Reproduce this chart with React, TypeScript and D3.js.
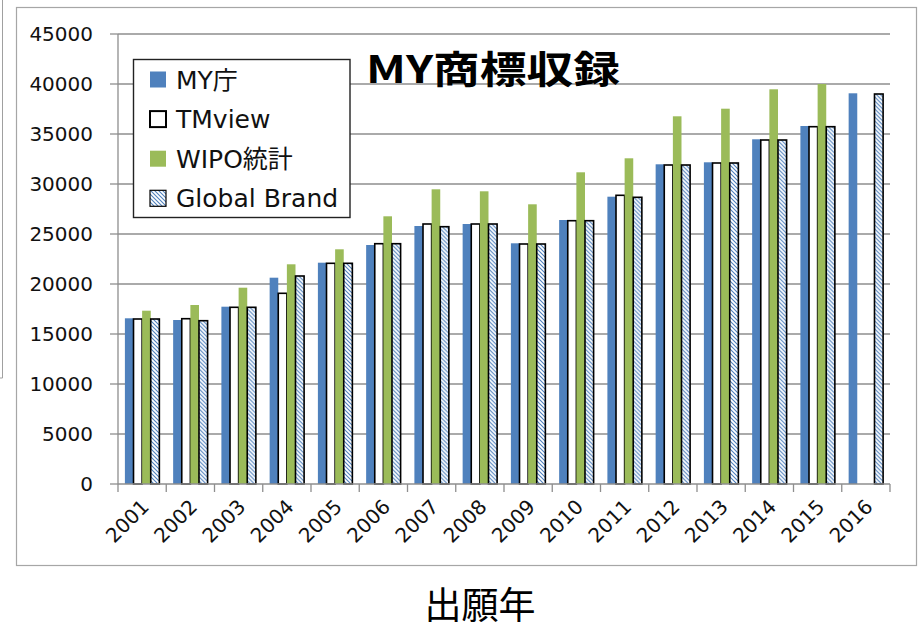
import React from "react";
import * as d3 from "d3";

const years = ["2001","2002","2003","2004","2005","2006","2007","2008","2009","2010","2011","2012","2013","2014","2015","2016"];
const myAgency = [16570,16400,17730,20630,22130,23900,25800,26000,24070,26400,28730,31970,32170,34470,35800,39070];
const tmview = [16500,16530,17670,19070,22070,24030,26000,26000,24000,26330,28870,31900,32100,34400,35730,null];
const wipo = [17330,17900,19630,21970,23470,26770,29470,29270,27970,31170,32570,36770,37530,39470,40000,null];
const globalBrand = [16500,16330,17670,20800,22070,24030,25730,26000,24000,26330,28670,31900,32100,34400,35730,39000];
const seriesNames = ["MY庁", "TMview", "WIPO統計", "Global Brand"];
const yTicks = [0,5000,10000,15000,20000,25000,30000,35000,40000,45000];
const chartTitle = "MY商標収録";
const xTitle = "出願年";

const BLUE = "#4F81BD";
const GREEN = "#9BBB59";
const GRID = "#8E8E8E";

type Style = { fill: string; stroke: string; sw: number };
const styles: Style[] = [
  { fill: BLUE, stroke: "none", sw: 0 },
  { fill: "#FFFFFF", stroke: "#000000", sw: 1.6 },
  { fill: GREEN, stroke: "none", sw: 0 },
  { fill: "url(#hatch)", stroke: "#000000", sw: 1.6 },
];

export default function App() {
  const W = 918, H = 630;
  const left = 118, right = 890, top = 34, bottom = 484;
  const x = d3.scaleBand<string>().domain(years).range([left, right]).padding(0);
  const step = x.step();
  const gapRatio = 1.6;
  const barW = step / (4 + gapRatio);
  const inner = d3.scaleBand<string>().domain(seriesNames)
    .range([(gapRatio * barW) / 2, step - (gapRatio * barW) / 2]).padding(0);
  const y = d3.scaleLinear().domain([0, 45000]).range([bottom, top]);
  const data = [myAgency, tmview, wipo, globalBrand];
  const font = "'DejaVu Sans', 'Noto Sans CJK JP', sans-serif";
  const cjk = "'Noto Sans CJK JP', sans-serif";

  const boundaries = years.map((_, i) => left + i * step).concat([right]);

  return (
    <svg width={W} height={H} style={{ position: "absolute", left: 0, top: 0, display: "block", background: "#fff" }} fontFamily={font}>
      <defs>
        <pattern id="hatch" patternUnits="userSpaceOnUse" width={4} height={4}>
          <rect width={4} height={4} fill="#fff" />
          <path d="M-1,-1 L5,5 M-1,3 L1,5 M3,-1 L5,1" stroke={BLUE} strokeWidth={1.1} />
        </pattern>
      </defs>
      {/* background artifact frame */}
      <path d="M2.5,0 V378 H0" fill="none" stroke="#A0A0A0" strokeWidth={1} />
      {/* outer chart border */}
      <rect x={16.5} y={7.5} width={900} height={558} fill="#fff" stroke="#A6A6A6" strokeWidth={1.2} />

      {/* gridlines and y ticks */}
      {yTicks.map((t) => (
        <g key={t}>
          {t > 0 && <line x1={left} x2={right} y1={y(t)} y2={y(t)} stroke={GRID} strokeWidth={1.3} />}
          <line x1={left - 8} x2={left} y1={y(t)} y2={y(t)} stroke={GRID} strokeWidth={1.3} />
          <text x={93} y={y(t)} dy="0.36em" textAnchor="end" fontSize={20} fill="#111">{t}</text>
        </g>
      ))}

      {/* bars */}
      {years.map((yr, i) => (
        <g key={yr} transform={`translate(${x(yr)},0)`}>
          {seriesNames.map((s, k) => {
            const v = data[k][i];
            if (v == null) return null;
            const st = styles[k];
            return (
              <rect key={s} x={inner(s)!} y={y(v)} width={inner.bandwidth()} height={bottom - y(v)}
                fill={st.fill} stroke={st.stroke} strokeWidth={st.sw} />
            );
          })}
        </g>
      ))}

      {/* axes */}
      <line x1={left} x2={left} y1={top} y2={bottom} stroke={GRID} strokeWidth={1.3} />
      <line x1={left} x2={right} y1={bottom} y2={bottom} stroke={GRID} strokeWidth={1.3} />
      {boundaries.map((bx, i) => (
        <line key={i} x1={bx} x2={bx} y1={bottom} y2={bottom + 8} stroke={GRID} strokeWidth={1.3} />
      ))}
      {years.map((yr) => {
        const cx = x(yr)! + step / 2;
        return (
          <text key={yr} transform={`translate(${cx + 3},${503}) rotate(-45)`} textAnchor="end" dy="0.36em"
            fontSize={20} fill="#111">{yr}</text>
        );
      })}

      {/* title */}
      <text x={366} y={83} fontSize={38} fontWeight="bold" fontFamily={cjk} textLength={254} lengthAdjust="spacingAndGlyphs" fill="#000">{chartTitle}</text>

      {/* legend */}
      <rect x={133.5} y={59.5} width={216.5} height={158} fill="#fff" stroke="#222" strokeWidth={1.4} />
      {seriesNames.map((s, k) => {
        const cy = 79.5 + k * 39.6;
        const st = styles[k];
        return (
          <g key={s}>
            <rect x={150} y={cy - 8} width={16} height={16} fill={st.fill}
              stroke={st.stroke} strokeWidth={k === 1 ? 2 : st.sw ? 1.2 : 0} />
            <text x={176} y={cy} dy="0.36em" fontSize={25} fill="#111">{s}</text>
          </g>
        );
      })}

      {/* x title */}
      <text x={480} y={619} textAnchor="middle" fontSize={37} fontFamily={cjk} fill="#000">{xTitle}</text>
    </svg>
  );
}
